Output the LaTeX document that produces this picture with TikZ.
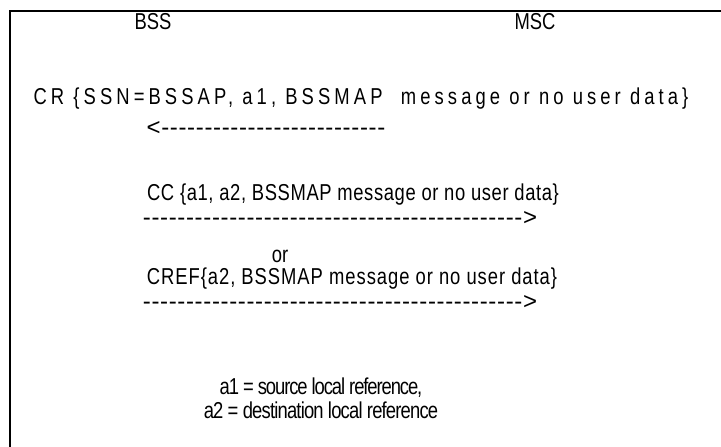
\documentclass[tikz,border=0pt]{standalone}
\usepackage{fontspec}
\setmainfont{Liberation Sans}
\usetikzlibrary{positioning}
\newcommand{\dashrun}[1]{\foreach \k in {1,...,#1}{-}}
\tikzset{
  base/.style={inner sep=0pt, text centered},
  msg/.style={base, font=\fontsize{23}{27}\selectfont\addfontfeatures{FakeStretch=0.8, LetterSpace=#1}},
  msg/.default=0,
  entity/.style={msg=0},
  arrowtext/.style={base, font=\fontsize{24}{28}\selectfont\addfontfeatures{LetterSpace=2.7}},
  frame/.style={line width=2pt}
}

\begin{document}
\begin{tikzpicture}[x=1pt, y=-1pt]
\useasboundingbox (0,0) rectangle (721,447);
\draw [frame] (10,470) |- (760,11);

\node (BSS) [entity] at (153,22) {BSS};
\node (MSC) [entity] at (535,22) {MSC};

\node (CR_MSG) [msg=17.8] at (361,99) {CR \{SSN=BSSAP, a1, BSSMAP\ \ message or no user data\}};
\node (CR_ARROW) [arrowtext] at (266,129) {<\dashrun{26}};

\node (CC_MSG) [msg=2.7] at (353,195) {CC \{a1, a2, BSSMAP message or no user data\}};
\node (CC_ARROW) [arrowtext] at (340,219) {\dashrun{44}>};

\node (OR) [msg] at (280,256) {or};
\node (CREF_MSG) [msg=4.2] at (352,279) {CREF\{a2, BSSMAP message or no user data\}};
\node (CREF_ARROW) [arrowtext] at (340,303) {\dashrun{44}>};

\node (A1_NOTE) [msg=-4.7] at (321,388) {a1 = source local reference,};
\node (A2_NOTE) [msg=-3.5] at (321,410) {a2 = destination local reference};

\end{tikzpicture}
\end{document}
